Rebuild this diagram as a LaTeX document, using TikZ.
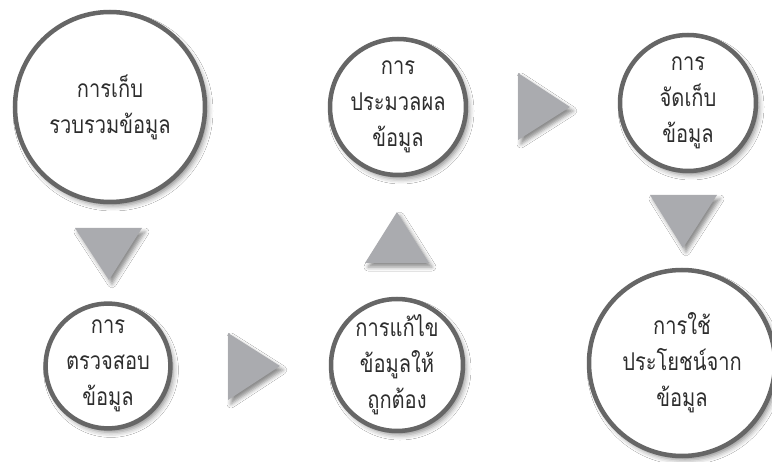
\documentclass[tikz,border=0pt]{standalone}
\usepackage{fontspec}
\newfontfamily\thaifont[Script=Thai,FakeStretch=0.82]{Loma}
\usetikzlibrary{shadows.blur}
\definecolor{ring}{RGB}{102,102,102}
\definecolor{tri}{RGB}{170,171,175}
\definecolor{txt}{RGB}{45,45,45}
\begin{document}
\begin{tikzpicture}[x=1pt,y=-1pt,
  stage/.style={circle, draw=ring, line width=4.5pt, fill=white, inner sep=0pt,
    minimum size=#1, align=center, text=txt,
    font=\thaifont\fontsize{24.5}{36}\selectfont,
    blur shadow={shadow xshift=3pt, shadow yshift=-4pt, shadow blur radius=5pt, shadow opacity=45}},
  arrowtri/.style={fill=tri, draw=none,
    blur shadow={shadow xshift=3pt, shadow yshift=-4pt, shadow blur radius=4pt, shadow opacity=45}}]
\useasboundingbox (0,0) rectangle (772,462);
\fill[white] (0,0) rectangle (772,462);

% circles
\node[stage=190] (collect) at (110,107) {การเก็บ\\รวบรวมข้อมูล};
\node[stage=124] (check) at (108,366) {การ\\ตรวจสอบ\\ข้อมูล};
\node[stage=132] (fix) at (397,365) {การแก้ไข\\ข้อมูลให้\\ถูกต้อง};
\node[stage=136] (process) at (398,107) {การ\\ประมวลผล\\ข้อมูล};
\node[stage=136] (store) at (688,103) {การ\\จัดเก็บ\\ข้อมูล};
\node[stage=186] (use) at (682,363) {การใช้\\ประโยชน์จาก\\ข้อมูล};

% triangle arrows
\coordinate (t1) at (109,254);
\coordinate (t2) at (254,366);
\coordinate (t3) at (397,238);
\coordinate (t4) at (544,107);
\coordinate (t5) at (683,221);
\fill[arrowtri] ([shift={(-34,-26)}]t1) -- ([shift={(33,-26)}]t1) -- ([shift={(0,26)}]t1) -- cycle;
\fill[arrowtri] ([shift={(-26,-33)}]t2) -- ([shift={(-26,34)}]t2) -- ([shift={(26,0)}]t2) -- cycle;
\fill[arrowtri] ([shift={(-32,25)}]t3) -- ([shift={(32,25)}]t3) -- ([shift={(0,-26)}]t3) -- cycle;
\fill[arrowtri] ([shift={(-26,-34)}]t4) -- ([shift={(-26,33)}]t4) -- ([shift={(26,0)}]t4) -- cycle;
\fill[arrowtri] ([shift={(-33,-26)}]t5) -- ([shift={(34,-26)}]t5) -- ([shift={(0,27)}]t5) -- cycle;
\end{tikzpicture}
\end{document}
